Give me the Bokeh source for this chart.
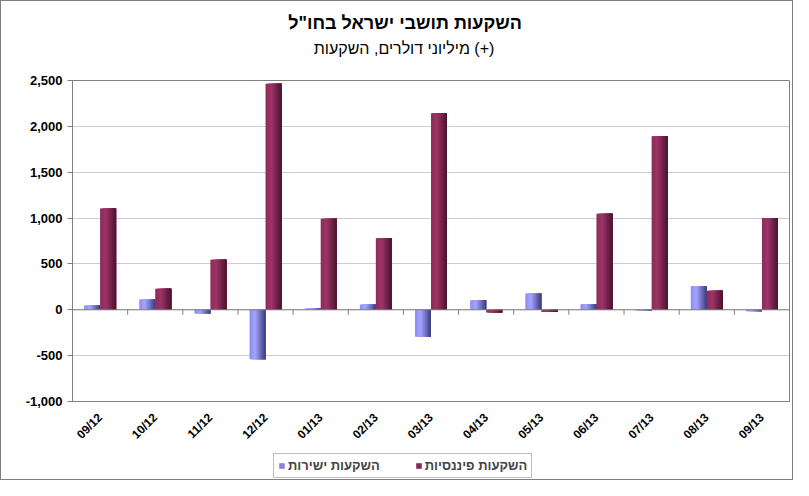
from math import pi
from bokeh.plotting import figure
from bokeh.layouts import column
from bokeh.models import (ColumnDataSource, Range1d, FixedTicker, NumeralTickFormatter,
                          Span, Legend, LegendItem, Label)
from bokeh.embed import file_html
from bokeh.resources import INLINE

# ---------------- data ----------------
categories = ["09/12", "10/12", "11/12", "12/12", "01/13", "02/13", "03/13",
              "04/13", "05/13", "06/13", "07/13", "08/13", "09/13"]
direct_inv = [47, 112, -40, -540, 14, 58, -295, 105, 178, 61, -8, 257, -15]
financial_inv = [1104, 229, 545, 2464, 992, 781, 2143, -30, -25, 1046, 1893, 207, 1000]
series_names = ["השקעות ישירות", "השקעות פיננסיות"]
y_ticks = [-1000, -500, 0, 500, 1000, 1500, 2000, 2500]
title_text = 'השקעות תושבי ישראל בחו"ל'
subtitle_text = "מיליוני דולרים, השקעות (+)"

# ---------------- styling ----------------
FONT = "Liberation Sans"
N_STRIPS = 12
BAR_W = 0.29
blue_stops = [(0.0, (140, 140, 240)), (0.35, (165, 165, 255)), (1.0, (58, 58, 125))]
maroon_stops = [(0.0, (138, 44, 90)), (0.35, (158, 52, 104)), (1.0, (72, 20, 46))]


def grad_color(stops, t):
    for (t0, c0), (t1, c1) in zip(stops[:-1], stops[1:]):
        if t0 <= t <= t1:
            f = (t - t0) / (t1 - t0) if t1 > t0 else 0
            r, g, b = (int(round(a + (bb - a) * f)) for a, bb in zip(c0, c1))
            return "#%02x%02x%02x" % (r, g, b)
    r, g, b = stops[-1][1]
    return "#%02x%02x%02x" % (r, g, b)


def strip_source(values, start_offset, stops):
    xs, ws, tops, colors = [], [], [], []
    sw = BAR_W / N_STRIPS
    for i, v in enumerate(values):
        left = i + 0.5 + start_offset
        right = left + BAR_W
        for k in range(N_STRIPS):
            l = left + k * sw
            xs.append((l + right) / 2)
            ws.append(right - l)
            tops.append(v)
            colors.append(grad_color(stops, (k + 0.5) / N_STRIPS))
    return ColumnDataSource(dict(x=xs, w=ws, top=tops, color=colors))


def blank_figure(height, x_range, y_range):
    f = figure(width=W, height=height, output_backend="svg", toolbar_location=None,
               x_axis_location=None, y_axis_location=None, min_border=0, title=None,
               x_range=x_range, y_range=y_range)
    f.outline_line_color = None
    f.xgrid.grid_line_color = None
    f.ygrid.grid_line_color = None
    f.background_fill_color = "white"
    f.border_fill_color = "white"
    return f


n = len(categories)
W = 791
HEAD_H = 69

# ---------------- header with the two titles ----------------
# header frame is aligned with the chart frame (window x 72..790); data units = pixels
head = blank_figure(HEAD_H, Range1d(72, 790), Range1d(HEAD_H, 0))
head.add_layout(Label(x=405, y=21, text=title_text, text_align="center",
                      text_baseline="middle", text_font=FONT, text_font_size="18px",
                      text_font_style="bold", text_color="black"))
head.add_layout(Label(x=404, y=47, text=subtitle_text, text_align="center",
                      text_baseline="middle", text_font=FONT, text_font_size="16px",
                      text_color="black"))

# ---------------- main chart ----------------
p = figure(width=W, height=380, output_backend="svg", toolbar_location=None,
           x_range=Range1d(0, n), y_range=Range1d(min(y_ticks), max(y_ticks)),
           min_border_left=71, min_border_right=3, min_border_top=10, min_border_bottom=49)
p.title.text = ""
p.background_fill_color = "white"
p.border_fill_color = "white"
p.outline_line_color = "#808080"
p.outline_line_width = 1

p.xgrid.grid_line_color = None
p.ygrid.ticker = FixedTicker(ticks=y_ticks)
p.ygrid.grid_line_color = "#9a9a9a"
p.ygrid.grid_line_dash = "1 1"
p.ygrid.grid_line_width = 1

src_b = strip_source(direct_inv, -BAR_W, blue_stops)
src_m = strip_source(financial_inv, 0.0, maroon_stops)
p.vbar(x="x", top="top", bottom=0, width="w", source=src_b,
       fill_color="color", line_color=None)
p.vbar(x="x", top="top", bottom=0, width="w", source=src_m,
       fill_color="color", line_color=None)

# zero line with category ticks
p.add_layout(Span(location=0, dimension="width", line_color="#808080", line_width=1))
bounds = list(range(1, n))
p.segment(x0=bounds, x1=bounds, y0=[0] * len(bounds), y1=[-55] * len(bounds),
          line_color="#808080", line_width=1)

p.yaxis.ticker = FixedTicker(ticks=y_ticks)
p.yaxis.formatter = NumeralTickFormatter(format="0,0")
p.yaxis.major_label_text_font = FONT
p.yaxis.major_label_text_font_size = "13px"
p.yaxis.major_label_text_font_style = "bold"
p.yaxis.major_label_text_color = "black"
p.yaxis.axis_line_color = "#808080"
p.yaxis.major_tick_line_color = "#808080"
p.yaxis.major_tick_in = 0
p.yaxis.major_tick_out = 5
p.yaxis.minor_tick_line_color = None
p.yaxis.major_label_standoff = 5

centers = [i + 0.5 for i in range(n)]
p.xaxis.ticker = FixedTicker(ticks=centers)
p.xaxis.major_label_overrides = {c: cat for c, cat in zip(centers, categories)}
p.xaxis.major_label_orientation = pi / 4
p.xaxis.major_label_text_font = FONT
p.xaxis.major_label_text_font_size = "12px"
p.xaxis.major_label_text_font_style = "bold"
p.xaxis.major_label_text_color = "black"
p.xaxis.axis_line_color = None
p.xaxis.major_tick_line_color = None
p.xaxis.minor_tick_line_color = None
p.xaxis.major_label_standoff = 8

# ---------------- legend strip ----------------
lf = blank_figure(29, Range1d(0, n), Range1d(5000, 5001))
lb = lf.vbar(x="x", top="top", bottom=0, width="w", source=src_b,
             fill_color="color", line_color=None)
lm = lf.vbar(x="x", top="top", bottom=0, width="w", source=src_m,
             fill_color="color", line_color=None)
mid = N_STRIPS // 2
legend = Legend(items=[LegendItem(label=series_names[0], renderers=[lb], index=mid),
                       LegendItem(label=series_names[1], renderers=[lm], index=mid)],
                orientation="horizontal", location=(201, 1), margin=0, padding=4,
                spacing=35, glyph_width=7, glyph_height=7, label_standoff=3,
                label_text_font=FONT, label_text_font_size="13px",
                label_text_font_style="bold", border_line_color="#808080",
                border_line_width=1, background_fill_color="white")
lf.add_layout(legend, "center")

layout = column(head, p, lf, spacing=0, styles={"border": "1px solid #7f7f7f"})

open("out.html", "w").write(file_html(layout, INLINE))
